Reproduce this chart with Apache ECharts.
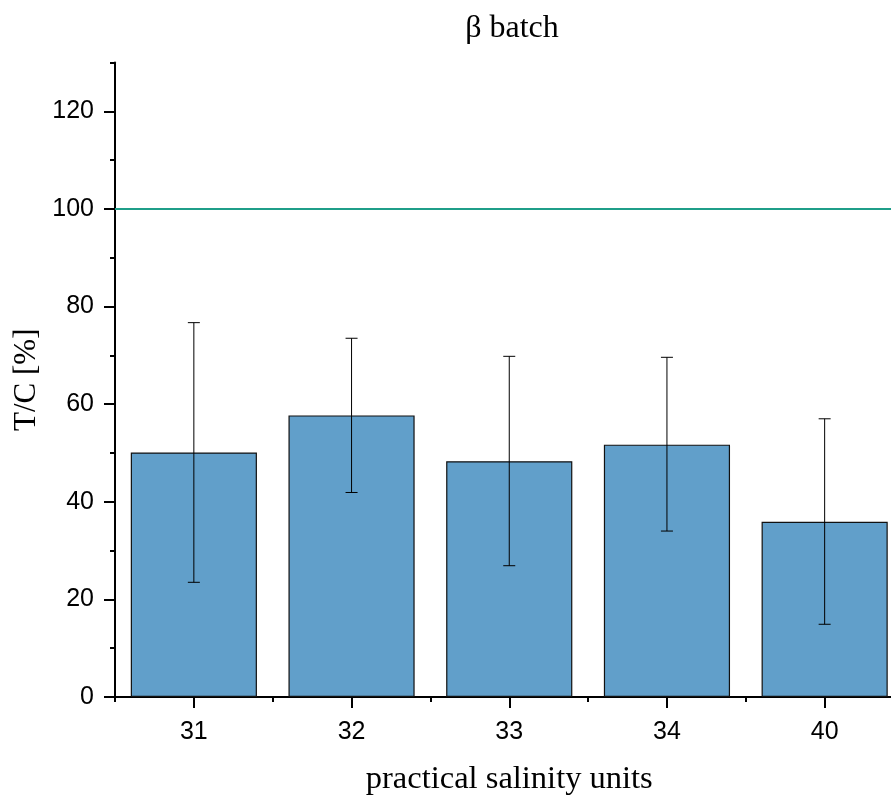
<!DOCTYPE html>
<html>
<head>
<meta charset="utf-8">
<script src="https://cdn.jsdelivr.net/npm/echarts@6/dist/echarts.min.js"></script>
<style>html,body{margin:0;padding:0;background:#fff}#c{width:891px;height:796px}</style>
</head>
<body>
<div id="c"></div>
<script>
var categories = ['31', '32', '33', '34', '40'];
var meanValues = [50.1, 57.7, 48.3, 51.7, 35.9];
var errorLow = [23.5, 41.9, 26.9, 34.0, 14.9];
var errorHigh = [76.7, 73.5, 69.8, 69.6, 57.0];
var referenceLevel = 100;

var errData = categories.map(function (c, i) { return [i, errorLow[i], errorHigh[i]]; });

var chart = echarts.init(document.getElementById('c'), null, { renderer: 'canvas' });
var serif = '"Liberation Serif", "Times New Roman", serif';
var sans = '"Liberation Sans", Arial, sans-serif';

chart.setOption({
  animation: false,
  backgroundColor: '#fff',
  title: {
    text: 'β batch',
    left: 507, textAlign: 'center', top: 8,
    textStyle: { fontFamily: serif, fontSize: 32, fontWeight: 'normal', color: '#000' }
  },
  grid: [
    { left: 115, right: -12.5, top: 62.5, bottom: 99, containLabel: false, outerBoundsMode: 'none' },
    { left: 115, right: -12.5, top: 111.3, bottom: 99, containLabel: false, outerBoundsMode: 'none' }
  ],
  xAxis: [
    {
      type: 'category', gridIndex: 0, data: categories, position: 'bottom',
      axisLine: { show: true, lineStyle: { color: '#000', width: 2 } },
      axisTick: { show: true, alignWithLabel: true, length: 11, lineStyle: { color: '#000', width: 2 } },
      axisLabel: { show: true, margin: 23, fontFamily: sans, fontSize: 25, color: '#000' },
      name: 'practical salinity units', nameLocation: 'middle', nameGap: 66,
      nameTextStyle: { fontFamily: serif, fontSize: 32.5, color: '#000' }
    },
    {
      type: 'category', gridIndex: 0, data: categories, position: 'bottom',
      axisLine: { show: false },
      axisTick: { show: true, alignWithLabel: false, length: 5, lineStyle: { color: '#000', width: 2 } },
      axisLabel: { show: false }
    },
    {
      type: 'category', gridIndex: 1, data: categories, show: false
    }
  ],
  yAxis: [
    {
      type: 'value', gridIndex: 0, min: 0, max: 130, interval: 10,
      axisLine: { show: true, lineStyle: { color: '#000', width: 2 } },
      axisTick: { show: true, length: 5, lineStyle: { color: '#000', width: 2 } },
      axisLabel: { show: false },
      splitLine: { show: false },
      name: 'T/C [%]', nameLocation: 'middle', nameGap: 73,
      nameTextStyle: { fontFamily: serif, fontSize: 31, color: '#000' }
    },
    {
      type: 'value', gridIndex: 1, min: 0, max: 120, interval: 20,
      axisLine: { show: false },
      axisTick: { show: true, length: 11, lineStyle: { color: '#000', width: 2 } },
      axisLabel: { show: true, margin: 21, fontFamily: sans, fontSize: 25, color: '#000' },
      splitLine: { show: false }
    }
  ],
  series: [
    {
      type: 'bar', xAxisIndex: 0, yAxisIndex: 0, data: meanValues,
      barCategoryGap: '20%',
      itemStyle: { color: '#619fca', borderColor: '#111', borderWidth: 1.2 },
      markLine: {
        silent: true, symbol: ['none', 'none'], label: { show: false },
        lineStyle: { color: '#1f9e89', width: 2, type: 'solid' },
        data: [{ yAxis: referenceLevel }]
      }
    },
    {
      type: 'custom', xAxisIndex: 0, yAxisIndex: 0, z: 5,
      data: errData,
      encode: { x: 0, y: [1, 2] },
      renderItem: function (params, api) {
        var i = api.value(0);
        var lo = api.coord([i, api.value(1)]);
        var hi = api.coord([i, api.value(2)]);
        var hw = 6;
        var st = { stroke: '#000', lineWidth: 1 };
        return {
          type: 'group',
          children: [
            { type: 'line', shape: { x1: hi[0], y1: hi[1], x2: lo[0], y2: lo[1] }, style: st },
            { type: 'line', shape: { x1: hi[0] - hw, y1: hi[1], x2: hi[0] + hw, y2: hi[1] }, style: st },
            { type: 'line', shape: { x1: lo[0] - hw, y1: lo[1], x2: lo[0] + hw, y2: lo[1] }, style: st }
          ]
        };
      }
    }
  ]
});
</script>
</body>
</html>
